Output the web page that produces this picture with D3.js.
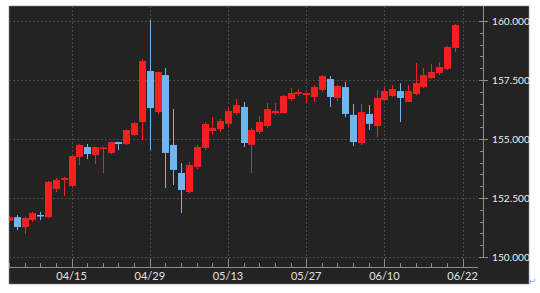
<!DOCTYPE html>
<html>
<head>
<meta charset="utf-8">
<script src="https://cdn.jsdelivr.net/npm/d3@7"></script>
<style>
  body { margin: 0; background: #fff; }
  svg { display: block; }
</style>
</head>
<body>
<svg id="chart" width="540" height="293"></svg>
<script>
// trading days, 04/03 .. 06/21
var dates = ['04/03', '04/04', '04/05', '04/08', '04/09', '04/10', '04/11', '04/12',
  '04/15', '04/16', '04/17', '04/18', '04/19', '04/22', '04/23', '04/24', '04/25', '04/26',
  '04/29', '04/30', '05/01', '05/02', '05/03', '05/06', '05/07', '05/08', '05/09', '05/10',
  '05/13', '05/14', '05/15', '05/16', '05/17', '05/20', '05/21', '05/22', '05/23', '05/24',
  '05/27', '05/28', '05/29', '05/30', '05/31', '06/03', '06/04', '06/05', '06/06', '06/07',
  '06/10', '06/11', '06/12', '06/13', '06/14', '06/17', '06/18', '06/19', '06/20', '06/21']

var open = [151.53, 151.69, 151.27, 151.57, 151.78, 151.69, 152.88, 153.26,
  153.01, 154.24, 154.66, 154.32, 154.58, 154.41, 154.87, 154.79, 155.17, 155.72,
  157.88, 156.14, 157.71, 154.75, 153.56, 152.75, 153.81, 154.62, 155.34, 155.42,
  155.64, 156.10, 156.36, 154.75, 155.30, 155.55, 156.10, 156.10, 156.69, 156.91,
  156.86, 156.78, 157.08, 157.54, 156.74, 157.20, 156.02, 154.83, 156.06, 155.55,
  156.65, 156.82, 157.03, 156.57, 156.91, 157.20, 157.58, 157.80, 157.97, 158.86]

var high = [151.74, 151.78, 151.69, 151.91, 151.91, 153.22, 153.35, 153.39,
  154.32, 154.79, 154.79, 154.68, 154.68, 154.89, 154.88, 155.40, 155.72, 158.39,
  160.04, 157.84, 158.01, 156.27, 153.98, 154.03, 154.75, 155.72, 155.93, 155.85,
  156.31, 156.69, 156.57, 155.47, 155.97, 156.53, 156.53, 156.86, 157.16, 157.12,
  156.97, 157.29, 157.71, 157.67, 157.29, 157.42, 156.48, 156.48, 156.44, 157.08,
  157.16, 157.29, 157.37, 157.29, 158.22, 158.01, 158.18, 158.26, 158.94, 159.87]

var low = [151.48, 151.14, 150.97, 151.48, 151.57, 151.65, 152.75, 152.58,
  152.97, 153.90, 154.15, 153.94, 153.56, 154.36, 154.53, 154.75, 155.13, 154.96,
  154.53, 156.06, 152.92, 153.05, 151.86, 152.71, 153.73, 154.53, 155.17, 155.30,
  155.51, 156.02, 154.66, 153.56, 155.21, 155.47, 156.02, 156.08, 156.61, 156.82,
  156.53, 156.57, 156.99, 156.36, 156.61, 155.93, 154.70, 154.75, 155.38, 155.08,
  156.61, 156.78, 155.72, 156.57, 156.86, 157.16, 157.54, 157.71, 157.92, 158.69]

var close = [151.69, 151.27, 151.65, 151.86, 151.74, 153.18, 153.26, 153.35,
  154.28, 154.75, 154.36, 154.66, 154.64, 154.87, 154.79, 155.38, 155.68, 158.31,
  156.31, 157.84, 154.41, 153.69, 152.84, 153.90, 154.66, 155.64, 155.47, 155.76,
  156.19, 156.44, 154.83, 155.38, 155.72, 156.27, 156.19, 156.82, 156.95, 156.99,
  156.95, 157.20, 157.67, 156.78, 157.25, 156.06, 154.87, 156.14, 155.64, 156.74,
  157.03, 157.12, 156.74, 157.03, 157.37, 157.71, 157.84, 158.05, 158.90, 159.83]

var xLabels = ['04/15', '04/29', '05/13', '05/27', '06/10', '06/22']
var xLabelIdx = [8, 18, 28, 38, 48, 58]
var yTicks = [150, 152.5, 155, 157.5, 160]

var svg = d3.select('#chart')
var box = { x: 9, y: 6, w: 520, h: 278 }
var plot = { left: 9, right: 478, top: 6, bottom: 267 }
var upColor = '#f51f1f'
var downColor = '#6db6f2'
var labelFont = 'Lato, "DejaVu Sans", sans-serif'

var x = d3.scaleLinear().domain([0, 58]).range([9, 462.6])
var y = d3.scaleLinear().domain([150, 160]).range([257, 21])

svg.append('rect')
   .attr('x', box.x)
   .attr('y', box.y)
   .attr('width', box.w)
   .attr('height', box.h)
   .style('fill', '#232323')
   .style('stroke', '#8a8a8a')
   .style('stroke-width', 0.6)

svg.append('clipPath')
   .attr('id', 'plotclip')
   .append('rect')
   .attr('x', plot.left)
   .attr('y', plot.top)
   .attr('width', plot.right - plot.left)
   .attr('height', plot.bottom - plot.top)

// grid
var grid = svg.append('g').attr('clip-path', 'url(#plotclip)')
yTicks.forEach(function (v) {
  grid.append('line')
      .attr('x1', plot.left)
      .attr('x2', plot.right)
      .attr('y1', Math.round(y(v)) + 0.5)
      .attr('y2', Math.round(y(v)) + 0.5)
      .style('stroke', '#4a4a4a')
      .style('stroke-dasharray', '2,2')
})
xLabelIdx.forEach(function (i) {
  grid.append('line')
      .attr('x1', Math.round(x(i)) + 0.5)
      .attr('x2', Math.round(x(i)) + 0.5)
      .attr('y1', plot.top)
      .attr('y2', plot.bottom)
      .style('stroke', '#4a4a4a')
      .style('stroke-dasharray', '2,2')
})

// candles
var candles = grid.selectAll('g.candle')
  .data(d3.range(dates.length))
  .enter().append('g')
  .attr('class', 'candle')

candles.append('line')
  .attr('x1', function (i) { return Math.round(x(i)) + 0.5 })
  .attr('x2', function (i) { return Math.round(x(i)) + 0.5 })
  .attr('y1', function (i) { return y(high[i]) })
  .attr('y2', function (i) { return y(low[i]) })
  .style('stroke', function (i) { return close[i] >= open[i] ? upColor : downColor })
  .style('stroke-width', 1)

candles.append('rect')
  .attr('x', function (i) { return Math.round(x(i)) - 3 })
  .attr('y', function (i) { return y(Math.max(open[i], close[i])) })
  .attr('width', 7)
  .attr('height', function (i) { return Math.max(1.5, Math.abs(y(open[i]) - y(close[i]))) })
  .style('fill', function (i) { return close[i] >= open[i] ? upColor : downColor })

// x axis
var axisX = svg.append('g')
axisX.append('line')
     .attr('x1', plot.left)
     .attr('x2', plot.right)
     .attr('y1', plot.bottom + 0.5)
     .attr('y2', plot.bottom + 0.5)
     .style('stroke', '#8c8c8c')

d3.range(0, 59, 2).forEach(function (i) {
  var major = xLabelIdx.indexOf(i) >= 0
  axisX.append('line')
       .attr('x1', Math.round(x(i)) + 0.5)
       .attr('x2', Math.round(x(i)) + 0.5)
       .attr('y1', plot.bottom - (major ? 8 : 4))
       .attr('y2', plot.bottom)
       .style('stroke', '#8c8c8c')
})

xLabels.forEach(function (t, k) {
  axisX.append('text')
       .attr('x', x(xLabelIdx[k]))
       .attr('y', 280)
       .attr('text-anchor', 'middle')
       .attr('font-family', labelFont)
       .attr('font-size', 11)
       .style('fill', '#e2e2e2')
       .text(t)
})

// y axis on the right
var axisY = svg.append('g')
axisY.append('line')
     .attr('x1', 483.5)
     .attr('x2', 483.5)
     .attr('y1', plot.top)
     .attr('y2', y(150) + 1)
     .style('stroke', '#8c8c8c')

d3.range(150, 160.01, 0.5).forEach(function (v) {
  var major = yTicks.indexOf(v) >= 0
  axisY.append('line')
       .attr('x1', major ? 479 : 480)
       .attr('x2', major ? 488 : 484)
       .attr('y1', Math.round(y(v)) + 0.5)
       .attr('y2', Math.round(y(v)) + 0.5)
       .style('stroke', '#8c8c8c')
})

yTicks.forEach(function (v) {
  axisY.append('text')
       .attr('x', 492)
       .attr('y', y(v) + 4)
       .attr('font-family', labelFont)
       .attr('font-size', 10.2)
       .style('fill', '#ececec')
       .text(d3.format('.3f')(v))
})

svg.append('text')
   .attr('x', 528)
   .attr('y', 285)
   .attr('font-family', '"DejaVu Sans", sans-serif')
   .attr('font-size', 10)
   .style('fill', '#8fb4dc')
   .text('\u21b5')
</script>
</body>
</html>
